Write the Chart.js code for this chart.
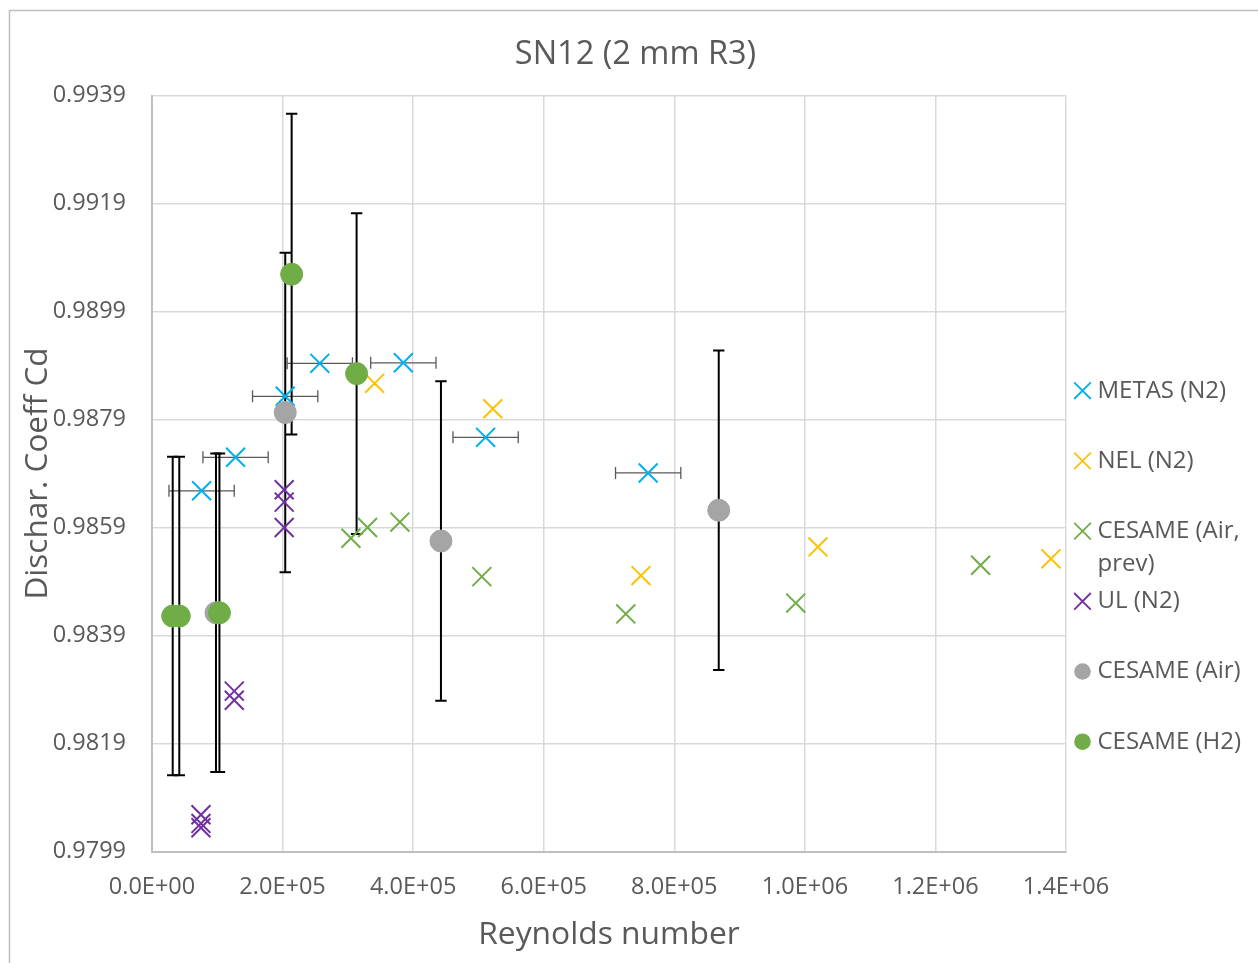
<!DOCTYPE html>
<html>
<head>
<meta charset="utf-8">
<script src="https://cdn.jsdelivr.net/npm/chart.js@4.4.1/dist/chart.umd.min.js"></script>
<style>
  html, body { margin: 0; padding: 0; background: #ffffff; }
  #wrap { width: 1258px; height: 963px; position: relative; }
</style>
</head>
<body>
<div id="wrap"><canvas id="c" width="1258" height="963"></canvas></div>
<script>
// ---------------- DATA ----------------
const chartTitle = 'SN12 (2 mm R3)';
const xAxisTitle = 'Reynolds number';
const yAxisTitle = 'Dischar. Coeff Cd';
const seriesNames = ['METAS (N2)', 'NEL (N2)', ['CESAME (Air,', 'prev)'], 'UL (N2)', 'CESAME (Air)', 'CESAME (H2)'];
const xTickLabels = ['0.0E+00', '2.0E+05', '4.0E+05', '6.0E+05', '8.0E+05', '1.0E+06', '1.2E+06', '1.4E+06'];
const yTickLabels = ['0.9799', '0.9819', '0.9839', '0.9859', '0.9879', '0.9899', '0.9919', '0.9939'];

const metasX    = [76000, 128000, 204000, 257000, 385000, 511000, 760000];
const metasY    = [0.98658, 0.98720, 0.98833, 0.98894, 0.98895, 0.98757, 0.98691];
const metasXErr = [50000, 50000, 50000, 50000, 50000, 50000, 50000];

const nelX = [341000, 522000, 749000, 1020000, 1377000];
const nelY = [0.98857, 0.98810, 0.98501, 0.98554, 0.98532];

const cesPrevX = [304700, 330200, 379700, 505200, 725700, 986000, 1269200];
const cesPrevY = [0.98570, 0.98590, 0.98600, 0.98499, 0.98430, 0.98450, 0.98520];

const ulX = [75000, 75000, 75000, 126000, 126000, 202500, 202500, 202500];
const ulY = [0.98058, 0.98042, 0.98034, 0.98287, 0.98270, 0.98660, 0.98637, 0.98590];

const cesAirX   = [98000, 204100, 442600, 868100];
const cesAirY   = [0.98432, 0.98803, 0.98565, 0.98622];
const cesAirErr = [0.00295, 0.00296, 0.00296, 0.00296];

const h2X   = [31700, 41800, 103300, 213900, 313400];
const h2Y   = [0.98426, 0.98426, 0.98432, 0.99059, 0.98875];
const h2Err = [0.00295, 0.00295, 0.00295, 0.00297, 0.00297];

// ---------------- BUILD ----------------
const toPts = (xs, ys) => xs.map((x, i) => ({ x: x, y: ys[i] }));
const TXT = '#595959';
const FONT = "'Open Sans', 'Noto Sans', sans-serif";

const xMark = (color, order) => ({
  pointStyle: 'crossRot', pointRadius: 13.4, pointBorderWidth: 2,
  borderColor: color, backgroundColor: color, pointHoverRadius: 13.4, order: order
});
const dot = (color, order) => ({
  pointStyle: 'circle', pointRadius: 11, pointBorderWidth: 1,
  borderColor: color, backgroundColor: color, pointHoverRadius: 11, order: order
});

const datasets = [
  Object.assign({ label: 'METAS (N2)', data: toPts(metasX, metasY), errX: metasXErr }, xMark('#00b0f0', 6)),
  Object.assign({ label: 'NEL (N2)', data: toPts(nelX, nelY) }, xMark('#ffc000', 5)),
  Object.assign({ label: 'CESAME (Air, prev)', data: toPts(cesPrevX, cesPrevY) }, xMark('#70ad47', 4)),
  Object.assign({ label: 'UL (N2)', data: toPts(ulX, ulY) }, xMark('#7030a0', 3)),
  Object.assign({ label: 'CESAME (Air)', data: toPts(cesAirX, cesAirY), errY: cesAirErr }, dot('#a5a5a5', 2)),
  Object.assign({ label: 'CESAME (H2)', data: toPts(h2X, h2Y), errY: h2Err }, dot('#70ad47', 1))
];

// background + outer frame
const framePlugin = {
  id: 'frame',
  beforeDraw(chart) {
    const ctx = chart.ctx;
    ctx.save();
    ctx.fillStyle = '#ffffff';
    ctx.fillRect(0, 0, chart.width, chart.height);
    ctx.strokeStyle = '#bfbfbf';
    ctx.lineWidth = 1.5;
    ctx.beginPath();
    ctx.moveTo(9.5, chart.height);
    ctx.lineTo(9.5, 10.5);
    ctx.lineTo(chart.width, 10.5);
    ctx.stroke();
    ctx.restore();
  }
};

// error bars drawn through the chart scales
const errorBarPlugin = {
  id: 'errorBars',
  beforeDatasetsDraw(chart) {
    const ctx = chart.ctx;
    const xs = chart.scales.x, ys = chart.scales.y;
    ctx.save();
    chart.data.datasets.forEach(ds => {
      if (ds.errY) {
        ctx.strokeStyle = '#000000';
        ctx.lineWidth = 2;
        ds.data.forEach((p, i) => {
          const e = ds.errY[i];
          const px = xs.getPixelForValue(p.x);
          const y1 = ys.getPixelForValue(p.y + e);
          const y2 = ys.getPixelForValue(p.y - e);
          ctx.beginPath();
          ctx.moveTo(px, y1); ctx.lineTo(px, y2);
          ctx.moveTo(px - 5.7, y1); ctx.lineTo(px + 5.7, y1);
          ctx.moveTo(px - 5.7, y2); ctx.lineTo(px + 5.7, y2);
          ctx.stroke();
        });
      }
      if (ds.errX) {
        ctx.strokeStyle = '#595959';
        ctx.lineWidth = 1.3;
        ds.data.forEach((p, i) => {
          const e = ds.errX[i];
          const py = ys.getPixelForValue(p.y);
          const x1 = xs.getPixelForValue(p.x - e);
          const x2 = xs.getPixelForValue(p.x + e);
          ctx.beginPath();
          ctx.moveTo(x1, py); ctx.lineTo(x2, py);
          ctx.moveTo(x1, py - 6); ctx.lineTo(x1, py + 6);
          ctx.moveTo(x2, py - 6); ctx.lineTo(x2, py + 6);
          ctx.stroke();
        });
      }
    });
    ctx.restore();
  }
};

// legend on the right (Excel style, wrapped label)
const legendPlugin = {
  id: 'sideLegend',
  afterDraw(chart) {
    const ctx = chart.ctx;
    const x0 = 1082.5, tx = 1097.5, y0 = 390.7, step = 70.2;
    ctx.save();
    ctx.font = '24px ' + FONT;
    ctx.fillStyle = TXT;
    ctx.textBaseline = 'middle';
    ctx.textAlign = 'left';
    chart.data.datasets.forEach((ds, i) => {
      const y = y0 + i * step;
      const c = ds.borderColor;
      if (ds.pointStyle === 'crossRot') {
        ctx.strokeStyle = c; ctx.lineWidth = 1.8;
        ctx.beginPath();
        ctx.moveTo(x0 - 8.3, y - 8.3); ctx.lineTo(x0 + 8.3, y + 8.3);
        ctx.moveTo(x0 - 8.3, y + 8.3); ctx.lineTo(x0 + 8.3, y - 8.3);
        ctx.stroke();
      } else {
        ctx.fillStyle = c;
        ctx.beginPath();
        ctx.arc(x0, y, 8.3, 0, Math.PI * 2);
        ctx.fill();
      }
      ctx.fillStyle = TXT;
      const name = seriesNames[i];
      const lines = Array.isArray(name) ? name : [name];
      lines.forEach((ln, k) => ctx.fillText(ln, tx, y + k * 33.4));
    });
    ctx.restore();
  }
};

Chart.defaults.font.family = FONT;
Chart.defaults.color = TXT;

new Chart(document.getElementById('c'), {
  type: 'scatter',
  data: { datasets: datasets },
  options: {
    responsive: false,
    animation: false,
    events: [],
    layout: { padding: { left: 13, right: 0, top: 10, bottom: 0 } },
    plugins: {
      legend: { display: false },
      tooltip: { enabled: false },
      title: {
        display: true, text: chartTitle, color: TXT,
        font: { size: 32.5, weight: 'normal', family: FONT },
        padding: { top: 25.5, bottom: 21.0 }
      }
    },
    scales: {
      x: {
        type: 'linear', position: 'bottom', min: 0, max: 1400000,
        ticks: {
          stepSize: 200000, autoSkip: false, maxRotation: 0, minRotation: 0,
          padding: 22, color: TXT, font: { size: 23.5 },
          callback: (v, i) => xTickLabels[i]
        },
        grid: { color: '#d9d9d9', lineWidth: 1.5, drawTicks: false },
        border: { display: true, color: '#bfbfbf', width: 2 },
        title: { display: true, text: xAxisTitle, color: TXT, font: { size: 31.8 }, padding: { top: 0, bottom: 9 } },
        afterFit: (s) => { s.height = 111.5; }
      },
      y: {
        type: 'linear', position: 'left', min: 0.9799, max: 0.9939,
        ticks: {
          stepSize: 0.002, autoSkip: false, padding: 26, color: TXT, font: { size: 23.5 },
          callback: (v, i) => yTickLabels[i]
        },
        grid: { color: '#d9d9d9', lineWidth: 1.5, drawTicks: false },
        border: { display: true, color: '#bfbfbf', width: 2 },
        title: { display: true, text: yAxisTitle, color: TXT, font: { size: 31.5 }, padding: { top: 6, bottom: 0 } },
        afterFit: (s) => { s.width = 139; }
      },
      yRight: {
        type: 'linear', position: 'right', display: true,
        grid: { display: false, drawTicks: false },
        border: { display: false },
        ticks: { display: false },
        afterFit: (s) => { s.width = 192; }
      }
    }
  },
  plugins: [framePlugin, errorBarPlugin, legendPlugin]
});
</script>
</body>
</html>
